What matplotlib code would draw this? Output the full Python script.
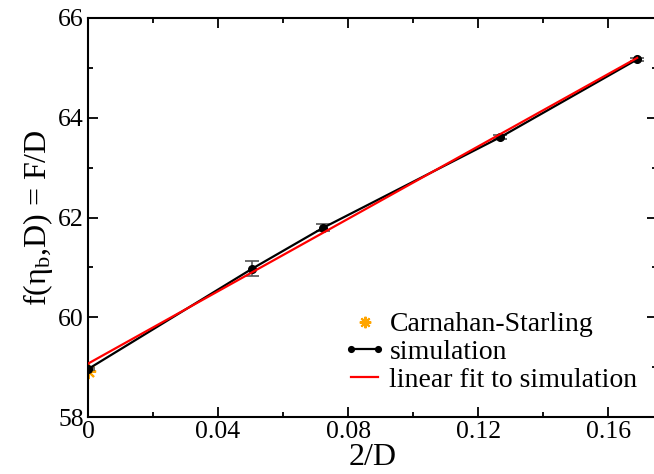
import matplotlib
matplotlib.use("Agg")
import matplotlib.pyplot as plt
from matplotlib.ticker import MultipleLocator
from matplotlib.legend_handler import HandlerLine2D

plt.rcParams['font.family'] = ['Liberation Serif', 'DejaVu Serif']
plt.rcParams['mathtext.fontset'] = 'custom'
plt.rcParams['mathtext.rm'] = 'Liberation Serif'
plt.rcParams['mathtext.it'] = 'Liberation Serif:italic'

# donnees
cs_x = [0.0]
cs_y = [58.93]

sim_x = [0.0, 0.0504, 0.0722, 0.1268, 0.1689]
sim_y = [58.96, 60.97, 61.79, 63.61, 65.17]
sim_err = [0.02, 0.15, 0.07, 0.04, 0.03]

fit_x = [0.0, 0.1689]
fit_y = [59.07, 65.20]

fig = plt.figure(figsize=(6.54, 4.74), dpi=100)
ax = fig.add_axes([88 / 654, 1 - 417 / 474, (657 - 88) / 654, (417 - 18) / 474])

# simulation avec barres d'erreur
ax.errorbar(sim_x, sim_y, yerr=sim_err, fmt='none', ecolor='#555555',
            elinewidth=1.2, capsize=5, capthick=1.2, zorder=2)
l_sim, = ax.plot(sim_x, sim_y, '-o', color='black', lw=1.6, ms=5.5, zorder=3)
l_fit, = ax.plot(fit_x, fit_y, '-', color='#ff0000', lw=1.6, zorder=4)
l_cs, = ax.plot(cs_x, cs_y, ls='none', marker=(8, 2, 0), color='#ffa500',
                ms=11, mew=1.5, zorder=1)

ax.set_xlim(0, 0.175)
ax.set_ylim(58, 66)
ax.xaxis.set_minor_locator(MultipleLocator(0.02))
ax.yaxis.set_major_locator(MultipleLocator(2))
ax.yaxis.set_minor_locator(MultipleLocator(1))
ax.set_xticks([0, 0.04, 0.08, 0.12, 0.16])
ax.set_xticklabels(['0', '0.04', '0.08', '0.12', '0.16'])

ax.tick_params(which='both', direction='in', top=True, right=True,
               width=1.3, labelsize=18.5, pad=3)
ax.tick_params(which='major', length=7.2)
ax.tick_params(which='minor', length=3.6)
for sp in ax.spines.values():
    sp.set_linewidth(1.5)

ax.set_xlabel('2/D', fontsize=23, labelpad=0)
ax.set_ylabel(r'f(η$_\mathrm{b}$,D) = F/D', fontsize=23, labelpad=2)

ax.legend([l_cs, l_sim, l_fit],
          ['Carnahan-Starling', 'simulation', 'linear fit to simulation'],
          loc='lower right', bbox_to_anchor=(1.0, 0.012), frameon=False,
          fontsize=20, handlelength=1.55, handletextpad=0.12,
          labelspacing=0.08, borderaxespad=0.3, numpoints=2,
          markerscale=0.75,
          handler_map={l_cs: HandlerLine2D(numpoints=1)})

plt.savefig('out.png', dpi=100)
plt.close()
